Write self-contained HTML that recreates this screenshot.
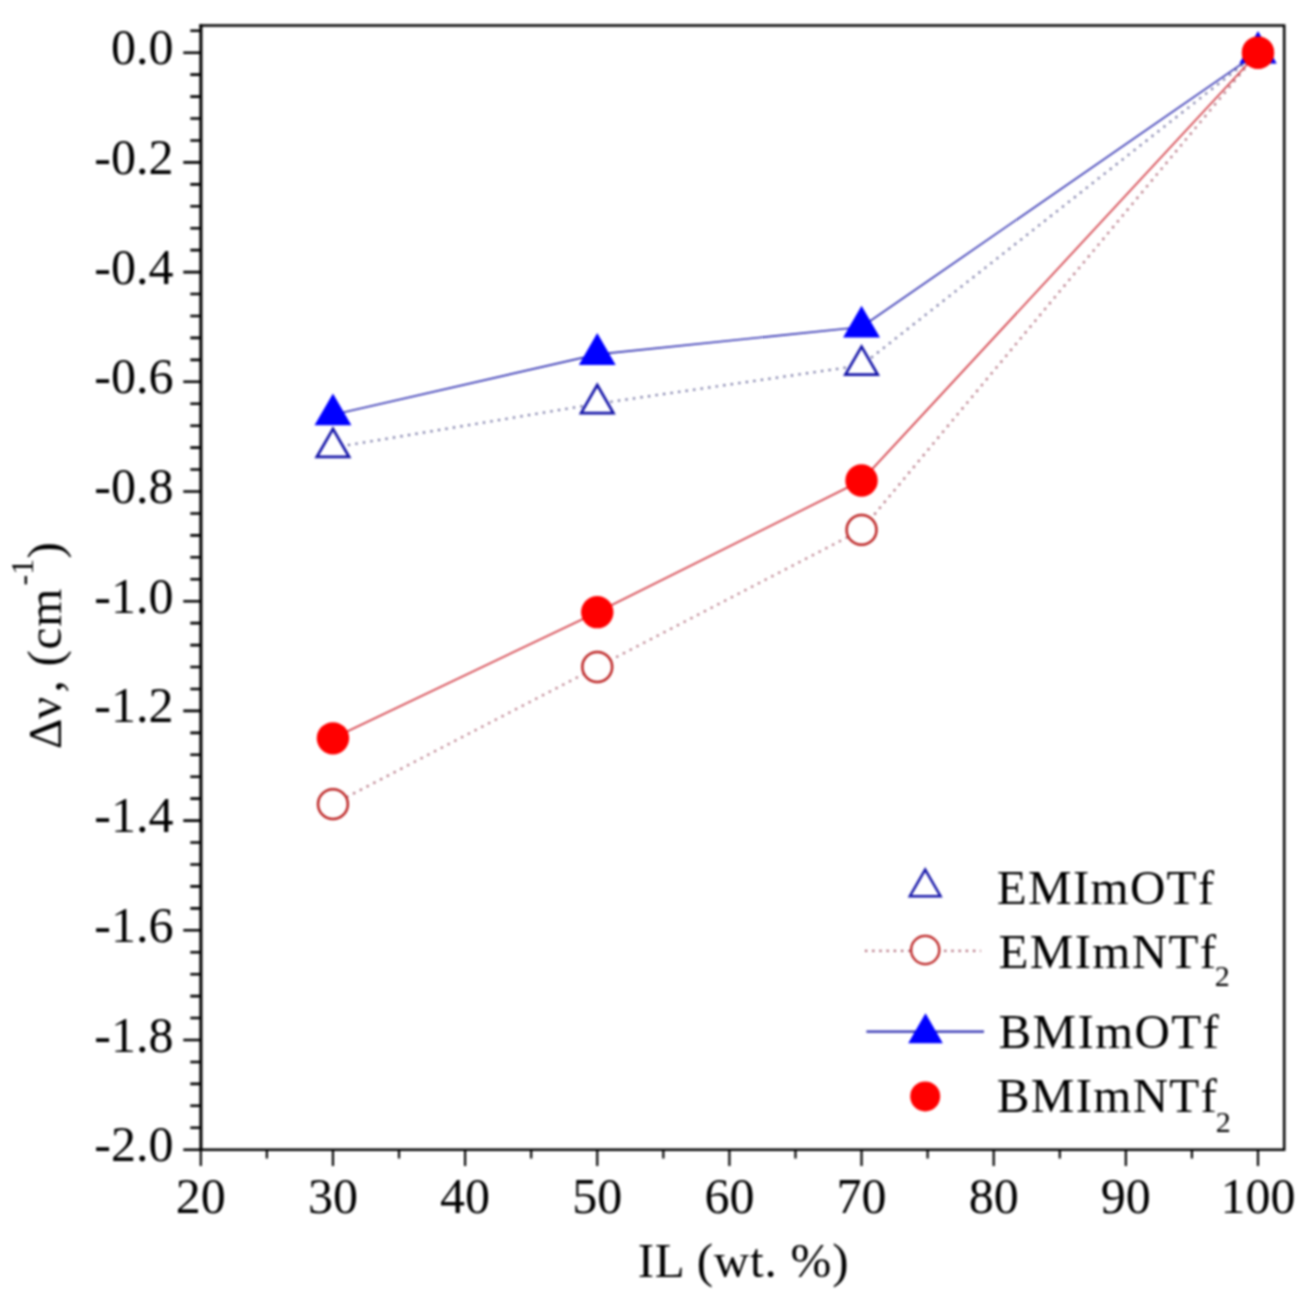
<!DOCTYPE html>
<html><head><meta charset="utf-8"><style>
html,body{margin:0;padding:0;background:#fff;}
svg{display:block;}
#w{filter:blur(0.8px);}
text{font-family:"Liberation Serif",serif;fill:#000;}
.t{font-size:50px;}
.ti{font-size:49px;letter-spacing:0.8px;}
.lg{font-size:49px;letter-spacing:1.3px;}
</style></head><body>
<div id="w"><svg width="1315" height="1306" viewBox="0 0 1315 1306">
<path d="M199.4 25.5H1284.2V1149.7H199.4" fill="none" stroke="#000" stroke-width="2.5"/>
<path d="M200.9 24.2V1151.0" fill="none" stroke="#000" stroke-width="3.1"/>
<path d="M183.3 52.70H200.9M190.3 74.64H200.9M190.3 96.58H200.9M190.3 118.52H200.9M190.3 140.46H200.9M183.3 162.40H200.9M190.3 184.34H200.9M190.3 206.28H200.9M190.3 228.22H200.9M190.3 250.16H200.9M183.3 272.10H200.9M190.3 294.04H200.9M190.3 315.98H200.9M190.3 337.92H200.9M190.3 359.86H200.9M183.3 381.80H200.9M190.3 403.74H200.9M190.3 425.68H200.9M190.3 447.62H200.9M190.3 469.56H200.9M183.3 491.50H200.9M190.3 513.44H200.9M190.3 535.38H200.9M190.3 557.32H200.9M190.3 579.26H200.9M183.3 601.20H200.9M190.3 623.14H200.9M190.3 645.08H200.9M190.3 667.02H200.9M190.3 688.96H200.9M183.3 710.90H200.9M190.3 732.84H200.9M190.3 754.78H200.9M190.3 776.72H200.9M190.3 798.66H200.9M183.3 820.60H200.9M190.3 842.54H200.9M190.3 864.48H200.9M190.3 886.42H200.9M190.3 908.36H200.9M183.3 930.30H200.9M190.3 952.24H200.9M190.3 974.18H200.9M190.3 996.12H200.9M190.3 1018.06H200.9M183.3 1040.00H200.9M190.3 1061.94H200.9M190.3 1083.88H200.9M190.3 1105.82H200.9M190.3 1127.76H200.9M183.3 1149.70H200.9M190.3 30.76H200.9" stroke="#000" stroke-width="2.6" fill="none"/>
<path d="M200.80 1149.7V1166M266.88 1149.7V1158.5M332.95 1149.7V1166M399.02 1149.7V1158.5M465.10 1149.7V1166M531.17 1149.7V1158.5M597.25 1149.7V1166M663.33 1149.7V1158.5M729.40 1149.7V1166M795.47 1149.7V1158.5M861.55 1149.7V1166M927.62 1149.7V1158.5M993.70 1149.7V1166M1059.78 1149.7V1158.5M1125.85 1149.7V1166M1191.92 1149.7V1158.5M1258.00 1149.7V1166" stroke="#000" stroke-width="2.2" fill="none"/>
<text class="t" transform="translate(173.4,64.2) scale(1,1.0)" text-anchor="end">0.0</text>
<text class="t" transform="translate(173.4,173.9) scale(1,1.0)" text-anchor="end">-0.2</text>
<text class="t" transform="translate(173.4,283.6) scale(1,1.0)" text-anchor="end">-0.4</text>
<text class="t" transform="translate(173.4,393.3) scale(1,1.0)" text-anchor="end">-0.6</text>
<text class="t" transform="translate(173.4,503.0) scale(1,1.0)" text-anchor="end">-0.8</text>
<text class="t" transform="translate(173.4,612.7) scale(1,1.0)" text-anchor="end">-1.0</text>
<text class="t" transform="translate(173.4,722.4) scale(1,1.0)" text-anchor="end">-1.2</text>
<text class="t" transform="translate(173.4,832.1) scale(1,1.0)" text-anchor="end">-1.4</text>
<text class="t" transform="translate(173.4,941.8) scale(1,1.0)" text-anchor="end">-1.6</text>
<text class="t" transform="translate(173.4,1051.5) scale(1,1.0)" text-anchor="end">-1.8</text>
<text class="t" transform="translate(173.4,1161.2) scale(1,1.0)" text-anchor="end">-2.0</text>
<text class="t" transform="translate(200.8,1213.0) scale(1,1.0)" text-anchor="middle">20</text>
<text class="t" transform="translate(333.0,1213.0) scale(1,1.0)" text-anchor="middle">30</text>
<text class="t" transform="translate(465.1,1213.0) scale(1,1.0)" text-anchor="middle">40</text>
<text class="t" transform="translate(597.2,1213.0) scale(1,1.0)" text-anchor="middle">50</text>
<text class="t" transform="translate(729.4,1213.0) scale(1,1.0)" text-anchor="middle">60</text>
<text class="t" transform="translate(861.5,1213.0) scale(1,1.0)" text-anchor="middle">70</text>
<text class="t" transform="translate(993.7,1213.0) scale(1,1.0)" text-anchor="middle">80</text>
<text class="t" transform="translate(1125.8,1213.0) scale(1,1.0)" text-anchor="middle">90</text>
<text class="t" transform="translate(1258.0,1213.0) scale(1,1.0)" text-anchor="middle">100</text>
<text class="ti" x="743.5" y="1277" text-anchor="middle">IL (wt. %)</text>
<text class="ti" style="font-size:47px" transform="translate(61,749.0) rotate(-90)">&#916;</text>
<text class="ti" transform="translate(61,719.0) rotate(-90)">&#957;</text>
<text class="ti" transform="translate(61,692.5) rotate(-90)">,</text>
<text class="ti" transform="translate(61,666.5) rotate(-90)">(cm</text>
<text class="ti" style="font-size:32px;letter-spacing:0" transform="translate(32.5,585.5) rotate(-90)">-1</text>
<text class="ti" transform="translate(61,558.5) rotate(-90)">)</text>
<polyline points="332.95,447.62 597.25,403.74 861.55,365.34 1258.00,52.70" fill="none" stroke="#6a6a9c" stroke-width="2.2" stroke-dasharray="2.2 5.4"/>
<polyline points="332.95,804.15 597.25,667.02 861.55,529.89 1258.00,52.70" fill="none" stroke="#aa6070" stroke-width="2.2" stroke-dasharray="2.2 5.4"/>
<polyline points="332.95,414.71 597.25,354.38 861.55,326.95 1258.00,52.70" fill="none" stroke="#2c2cb0" stroke-width="1.6"/>
<polyline points="332.95,738.33 597.25,612.17 861.55,480.53 1258.00,52.70" fill="none" stroke="#d0303a" stroke-width="1.6"/>
<polygon points="332.95,428.92 349.14,456.97 316.76,456.97" fill="#fff" stroke="#1414a8" stroke-width="2.7"/>
<polygon points="597.25,385.04 613.44,413.09 581.06,413.09" fill="#fff" stroke="#1414a8" stroke-width="2.7"/>
<polygon points="861.55,346.64 877.74,374.69 845.36,374.69" fill="#fff" stroke="#1414a8" stroke-width="2.7"/>
<polygon points="1258.00,34.00 1274.19,62.05 1241.81,62.05" fill="#fff" stroke="#1414a8" stroke-width="2.7"/>
<circle cx="332.95" cy="804.15" r="14.9" fill="#fff" stroke="#bc2222" stroke-width="2.5"/>
<circle cx="597.25" cy="667.02" r="14.9" fill="#fff" stroke="#bc2222" stroke-width="2.5"/>
<circle cx="861.55" cy="529.89" r="14.9" fill="#fff" stroke="#bc2222" stroke-width="2.5"/>
<circle cx="1258.00" cy="52.70" r="14.9" fill="#fff" stroke="#bc2222" stroke-width="2.5"/>
<polygon points="332.95,393.41 351.40,425.36 314.50,425.36" fill="#0000ff"/>
<polygon points="597.25,333.07 615.70,365.02 578.80,365.02" fill="#0000ff"/>
<polygon points="861.55,305.65 880.00,337.60 843.10,337.60" fill="#0000ff"/>
<polygon points="1258.00,31.40 1276.45,63.35 1239.55,63.35" fill="#0000ff"/>
<circle cx="332.95" cy="738.33" r="16.2" fill="#ff0000"/>
<circle cx="597.25" cy="612.17" r="16.2" fill="#ff0000"/>
<circle cx="861.55" cy="480.53" r="16.2" fill="#ff0000"/>
<circle cx="1258.00" cy="52.70" r="16.2" fill="#ff0000"/>
<polygon points="925.20,869.60 940.53,896.15 909.87,896.15" fill="#fff" stroke="#1414a8" stroke-width="2.5"/>
<text class="lg" x="996.8" y="903.6">EMImOTf</text>
<path d="M865 950.8H981" stroke="#aa6070" stroke-width="2.2" stroke-dasharray="2.2 5"/>
<circle cx="925.2" cy="950" r="14.1" fill="#fff" stroke="#bc2222" stroke-width="2.3"/>
<text class="lg" x="998.6" y="967.6">EMImNTf<tspan font-size="30" dx="-2.5" dy="18">2</tspan></text>
<path d="M866.4 1031.7H984" stroke="#2c2cb0" stroke-width="2.2"/>
<polygon points="925.50,1013.20 942.82,1043.20 908.18,1043.20" fill="#0000ff"/>
<text class="lg" x="998.6" y="1047.6">BMImOTf</text>
<circle cx="925.2" cy="1096.4" r="15" fill="#ff0000"/>
<text class="lg" x="996.8" y="1111.6">BMImNTf<tspan font-size="30" dx="-2.5" dy="20">2</tspan></text>
</svg></div>
</body></html>
